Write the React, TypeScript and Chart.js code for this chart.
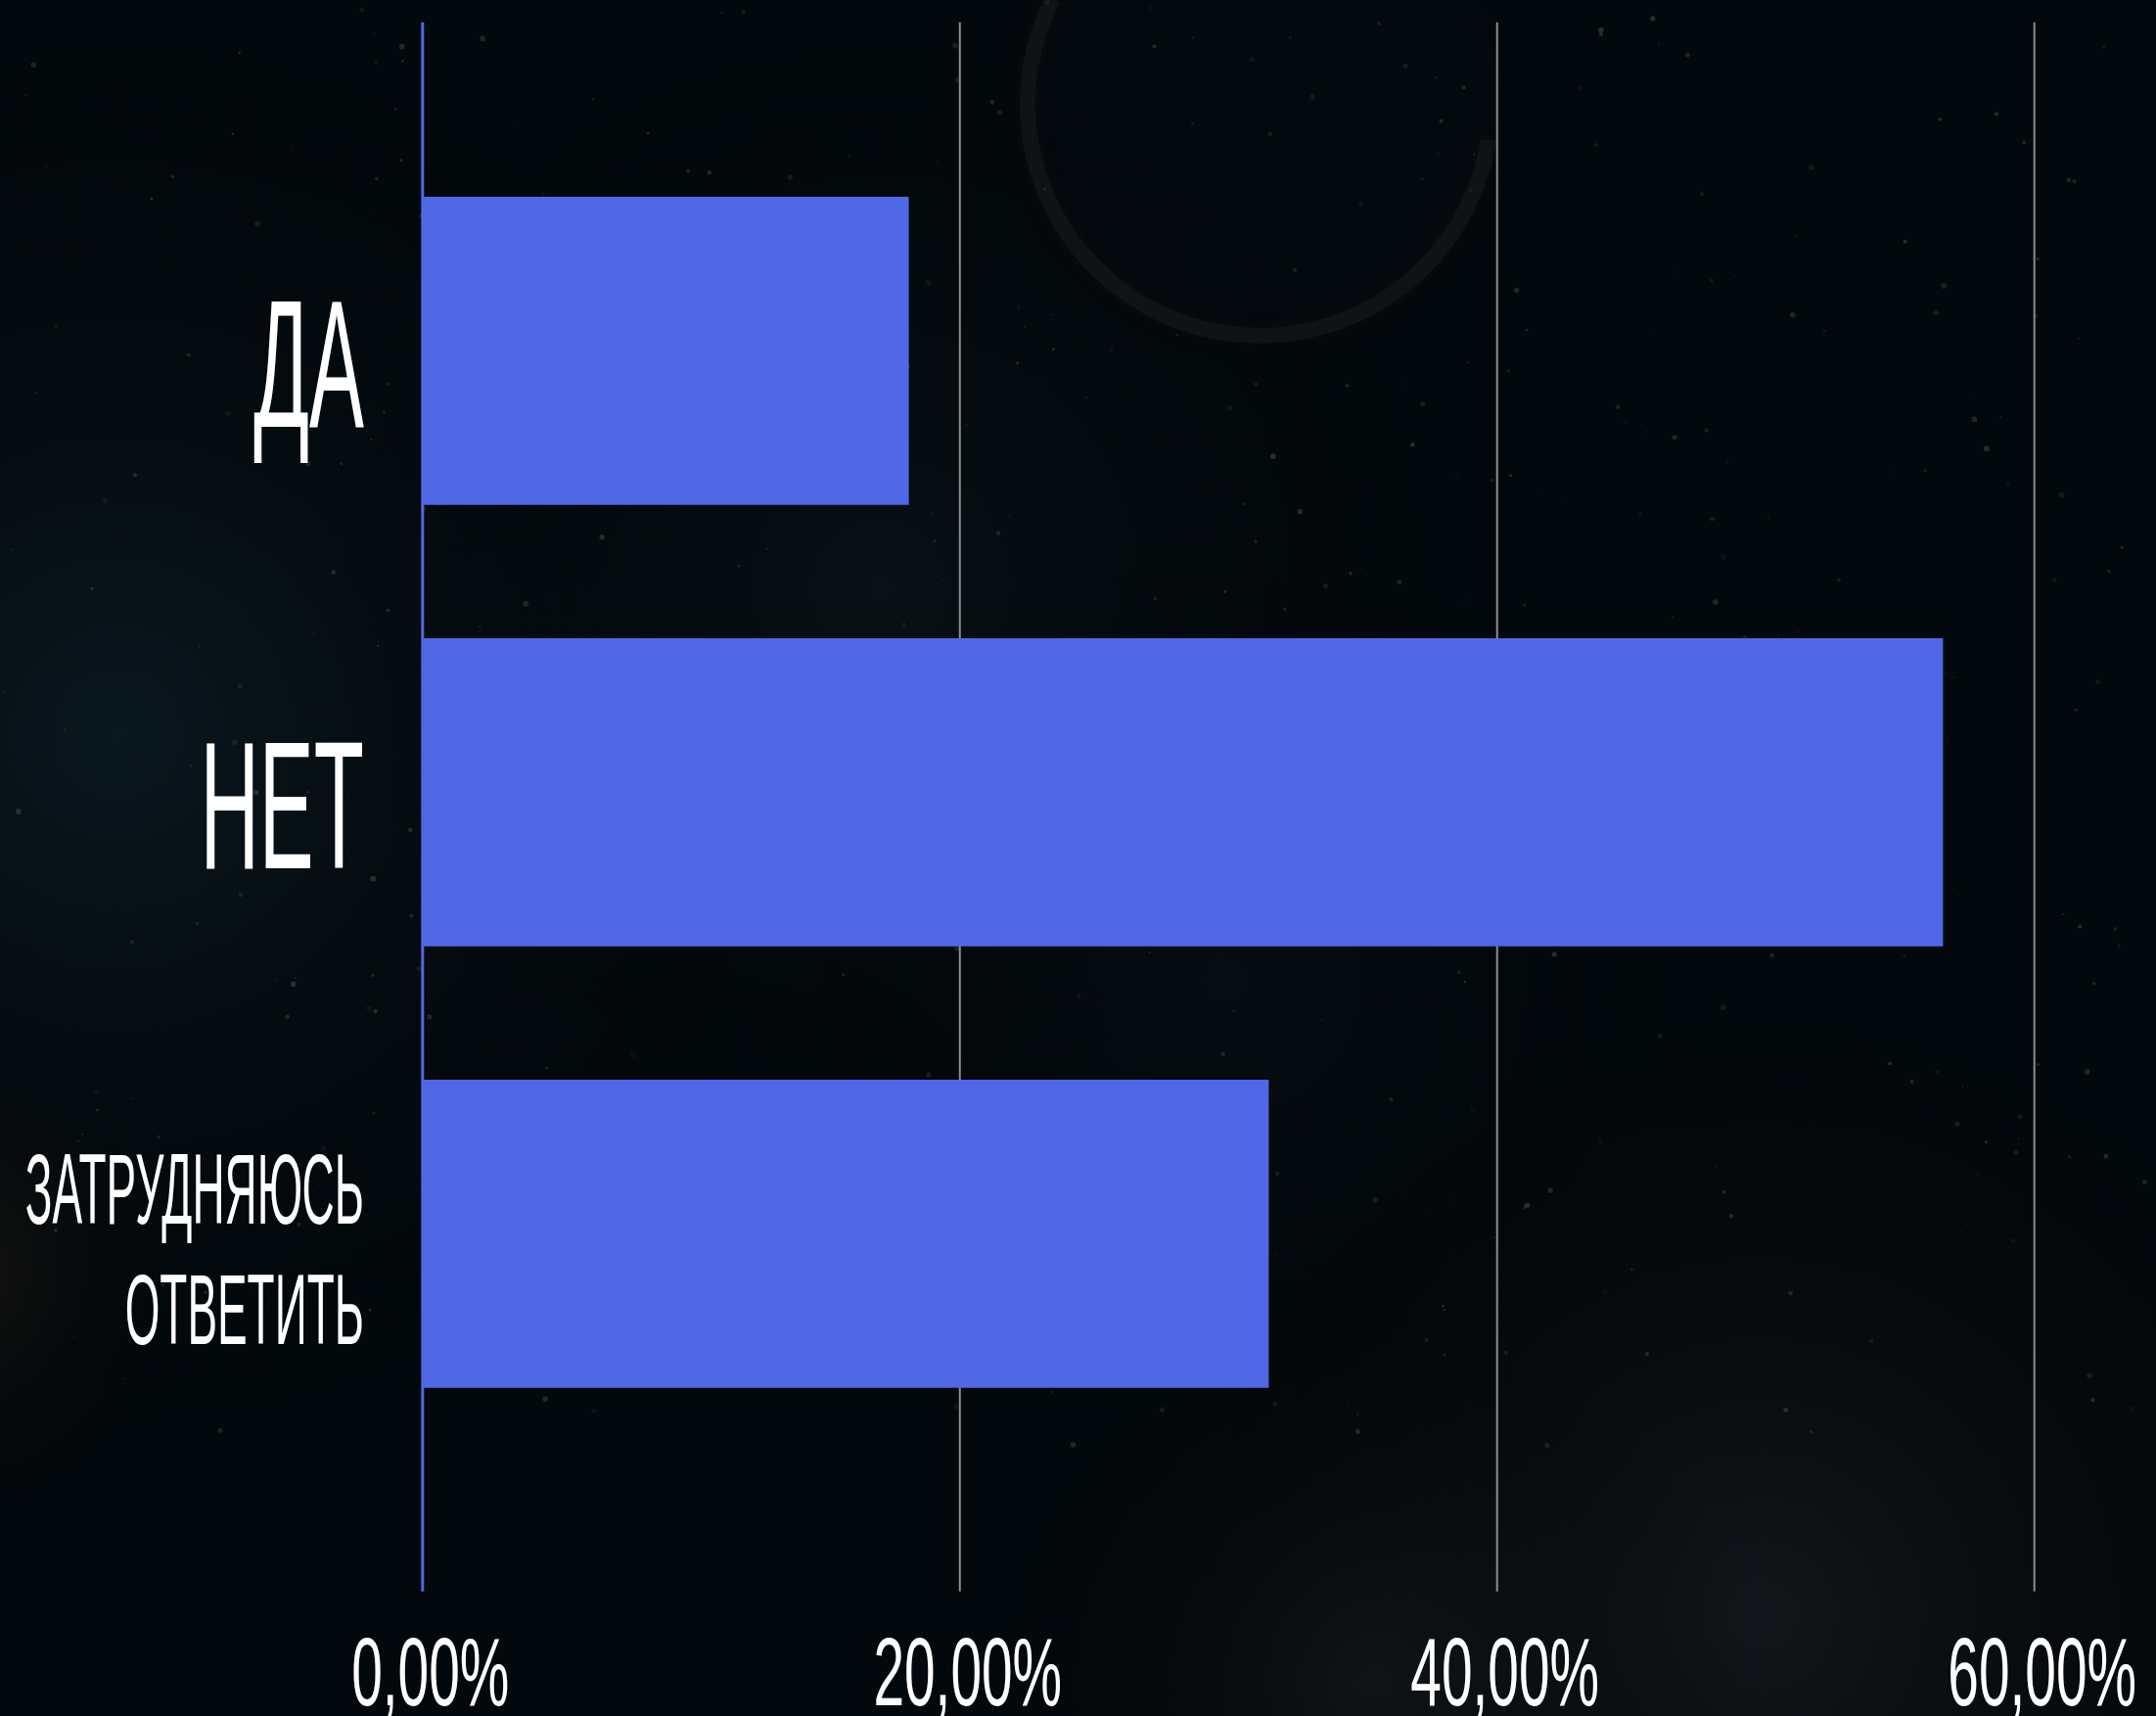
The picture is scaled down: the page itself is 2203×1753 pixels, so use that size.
import React, { useEffect, useRef } from "react";
import { Chart, registerables } from "chart.js";

Chart.register(...registerables);

// ---- data ----
const categories = ["ДА", "НЕТ", "ЗАТРУДНЯЮСЬ ОТВЕТИТЬ"];
const categoryLines = [["ДА"], ["НЕТ"], ["ЗАТРУДНЯЮСЬ", "ОТВЕТИТЬ"]];
const shares = [18.1, 56.6, 31.5];
const xTickValues = [0, 20, 40, 60];
const xTickLabels = ["0,00%", "20,00%", "40,00%", "60,00%"];

// ---- styles ----
const W = 2203;
const H = 1753;
const BAR = "#5068e6";
const GRID = "#8c8c8c";
const FONT = '"Liberation Sans", Arial, "DejaVu Sans", sans-serif';

function drawCompressed(
  ctx: CanvasRenderingContext2D,
  text: string,
  x: number,
  y: number,
  sx: number,
  align: CanvasTextAlign
) {
  ctx.save();
  ctx.translate(x, y);
  ctx.scale(sx, 1);
  ctx.textAlign = align;
  ctx.textBaseline = "alphabetic";
  ctx.fillText(text, 0, 0);
  ctx.restore();
}

const backgroundPlugin = {
  id: "nightSky",
  beforeDraw(chart: any) {
    const { ctx, width, height } = chart;
    ctx.save();
    ctx.fillStyle = "#03080c";
    ctx.fillRect(0, 0, width, height);

    const haze = (x: number, y: number, r: number, c: string) => {
      const g = ctx.createRadialGradient(x, y, 0, x, y, r);
      g.addColorStop(0, c);
      g.addColorStop(1, "rgba(0,0,0,0)");
      ctx.fillStyle = g;
      ctx.fillRect(0, 0, width, height);
    };
    haze(120, 750, 750, "rgba(16,38,46,0.55)");
    haze(900, 600, 600, "rgba(14,28,34,0.45)");
    haze(1250, 1000, 500, "rgba(12,22,28,0.35)");
    haze(1800, 1650, 650, "rgba(34,38,42,0.5)");
    haze(1400, 1720, 400, "rgba(30,34,38,0.45)");
    haze(-60, 1300, 260, "rgba(60,45,30,0.35)");

    // moon (faint)
    const mx = 1287, my = 106, mr = 245;
    ctx.beginPath();
    ctx.arc(mx, my, mr, 0, Math.PI * 2);
    ctx.fillStyle = "rgba(6,10,16,0.5)";
    ctx.fill();
    ctx.shadowColor = "rgba(60,55,45,0.5)";
    ctx.shadowBlur = 18;
    ctx.beginPath();
    ctx.arc(mx, my, mr - 8, Math.PI * 0.05, Math.PI * 1.15);
    ctx.strokeStyle = "rgba(52,48,40,0.22)";
    ctx.lineWidth = 16;
    ctx.stroke();
    ctx.shadowBlur = 0;
    ctx.shadowColor = "rgba(0,0,0,0)";

    // faint stars (decorative, deterministic)
    let seed = 12345;
    const rnd = () => {
      seed = (seed * 1103515245 + 12345) % 2147483648;
      return seed / 2147483648;
    };
    for (let i = 0; i < 420; i++) {
      const x = rnd() * width;
      const y = rnd() * height * 0.85;
      const r = 0.8 + rnd() * 2.2;
      const a = 0.05 + rnd() * 0.18;
      ctx.beginPath();
      ctx.arc(x, y, r, 0, Math.PI * 2);
      ctx.fillStyle = `rgba(160,170,160,${a})`;
      ctx.fill();
    }
    ctx.restore();
  },
};

const gridPlugin = {
  id: "extendedGrid",
  beforeDatasetsDraw(chart: any) {
    const { ctx, chartArea } = chart;
    const xs = chart.scales.x;
    const top = chartArea.top - 110;
    const bottom = chartArea.bottom + 140;
    ctx.save();
    xTickValues.forEach((v) => {
      const px = xs.getPixelForValue(v);
      ctx.beginPath();
      ctx.moveTo(px, top);
      ctx.lineTo(px, bottom);
      if (v === 0) {
        ctx.strokeStyle = BAR;
        ctx.lineWidth = 3;
      } else {
        ctx.strokeStyle = GRID;
        ctx.lineWidth = 2;
      }
      ctx.stroke();
    });
    ctx.restore();
  },
};

const labelPlugin = {
  id: "handLabels",
  afterDraw(chart: any) {
    const { ctx, chartArea } = chart;
    const xs = chart.scales.x;
    const ys = chart.scales.y;
    ctx.save();
    ctx.fillStyle = "#ffffff";

    const rightX = chartArea.left - 60;
    categoryLines.forEach((lines, i) => {
      const cy = ys.getPixelForValue(i);
      if (lines.length === 1) {
        ctx.font = `186px ${FONT}`;
        drawCompressed(ctx, lines[0], rightX, cy + 78, 0.45, "right");
      } else {
        ctx.font = `102px ${FONT}`;
        lines.forEach((t, k) => {
          drawCompressed(ctx, t, rightX, cy - 10 + k * 123, 0.45, "right");
        });
      }
    });

    ctx.font = `98px ${FONT}`;
    const baseY = chartArea.bottom + 256;
    xTickValues.forEach((v, i) => {
      const px = xs.getPixelForValue(v);
      drawCompressed(ctx, xTickLabels[i], px + 8, baseY, 0.58, "center");
    });
    ctx.restore();
  },
};

export default function App() {
  const ref = useRef<HTMLCanvasElement | null>(null);

  useEffect(() => {
    if (!ref.current) return;
    const chart = new Chart(ref.current, {
      type: "bar",
      data: {
        labels: categories,
        datasets: [
          {
            data: shares,
            backgroundColor: BAR,
            borderWidth: 0,
            barPercentage: 0.698,
            categoryPercentage: 1,
          },
        ],
      },
      options: {
        indexAxis: "y",
        responsive: false,
        animation: false,
        devicePixelRatio: 1,
        layout: {
          padding: { left: 431.8, right: 124.3, top: 132.8, bottom: 267.2 },
        },
        plugins: {
          legend: { display: false },
          tooltip: { enabled: false },
        },
        scales: {
          x: { type: "linear", min: 0, max: 60, display: false },
          y: { type: "category", display: false, offset: true },
        },
      },
      plugins: [backgroundPlugin, gridPlugin, labelPlugin],
    } as any);
    return () => chart.destroy();
  }, []);

  return (
    <div style={{ position: "fixed", left: 0, top: 0, width: W, height: H }}>
      <canvas ref={ref} width={W} height={H} style={{ display: "block" }} />
    </div>
  );
}
